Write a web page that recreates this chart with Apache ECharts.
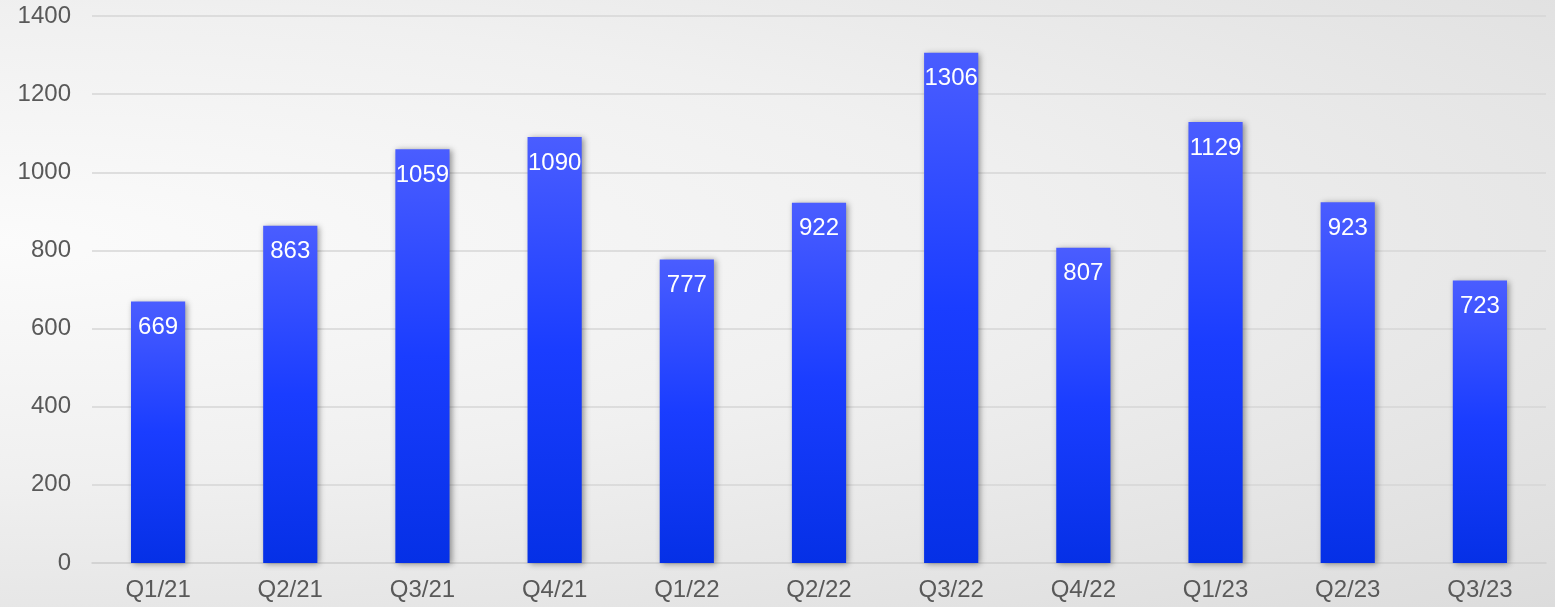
<!DOCTYPE html>
<html>
<head>
<meta charset="utf-8">
<script src="https://cdn.jsdelivr.net/npm/echarts@6/dist/echarts.min.js"></script>
<style>
  html, body { margin: 0; padding: 0; }
  #chart {
    width: 1555px; height: 607px;
    background: radial-gradient(ellipse at 0% 40%, #fbfbfb 0%, #f0f0f0 45%, #dcdcdc 100%);
  }
</style>
</head>
<body>
<div id="chart"></div>
<script>
  const quarters = ['Q1/21', 'Q2/21', 'Q3/21', 'Q4/21', 'Q1/22', 'Q2/22', 'Q3/22', 'Q4/22', 'Q1/23', 'Q2/23', 'Q3/23'];
  const values = [669, 863, 1059, 1090, 777, 922, 1306, 807, 1129, 923, 723];

  const chart = echarts.init(document.getElementById('chart'));

  const barColor = new echarts.graphic.LinearGradient(0, 0, 0, 1, [
    { offset: 0, color: '#4a5dff' },
    { offset: 0.5, color: '#1a3dff' },
    { offset: 1, color: '#0530e6' }
  ]);

  chart.setOption({
    animation: false,
    textStyle: { fontFamily: 'Liberation Sans, Arial, sans-serif' },
    grid: { left: 92, right: 9, top: 16, bottom: 44, containLabel: false },
    xAxis: {
      type: 'category',
      data: quarters,
      axisTick: { show: false },
      axisLine: { lineStyle: { color: '#d0d0d0', width: 1.5 } },
      axisLabel: { color: '#595959', fontSize: 24, margin: 15 }
    },
    yAxis: {
      type: 'value',
      min: 0,
      max: 1400,
      interval: 200,
      axisLine: { show: false },
      axisTick: { show: false },
      splitLine: { lineStyle: { color: '#d6d6d6', width: 1.5 } },
      axisLabel: { color: '#595959', fontSize: 24, margin: 21, formatter: v => String(v) }
    },
    series: [{
      type: 'bar',
      data: values,
      barWidth: '41%',
      itemStyle: {
        color: barColor,
        shadowColor: 'rgba(0,0,0,0.4)',
        shadowBlur: 6,
        shadowOffsetX: 2,
        shadowOffsetY: 1
      },
      label: {
        show: true,
        position: 'insideTop',
        distance: 14,
        color: '#ffffff',
        fontSize: 24
      }
    }]
  });
</script>
</body>
</html>
